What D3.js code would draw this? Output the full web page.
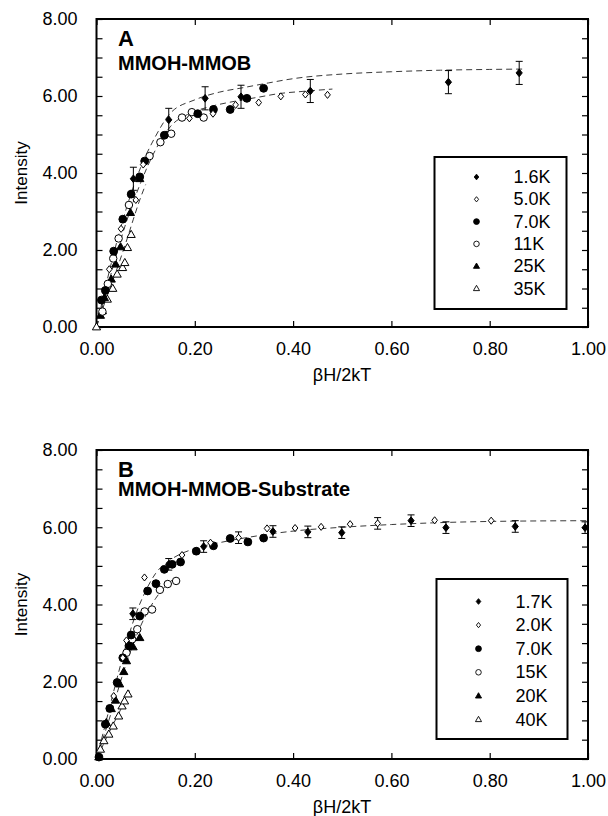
<!DOCTYPE html>
<html>
<head>
  <meta charset="utf-8">
  <title>Intensity vs βH/2kT</title>
  <script src="https://d3js.org/d3.v7.min.js"></script>
  <style>
    body { margin: 0; background: #fff; }
    text { font-family: "Liberation Sans", Arial, sans-serif; fill: #000; }
  </style>
</head>
<body>
  <script>
    // ---- data: [x, y, error] ----
    // panel A : MMOH-MMOB
    var a16 = [[0.075,3.85,0.3],[0.147,5.38,0.3],[0.221,5.94,0.3],[0.294,5.98,0.3],[0.435,6.13,0.3],[0.716,6.36,0.3],[0.860,6.60,0.3]];
    var a50 = [[0.026,1.5],[0.05,2.55],[0.08,3.3],[0.095,4.22],[0.189,5.42],[0.237,5.54],[0.283,5.77],[0.330,5.83],[0.375,5.99],[0.425,6.04],[0.470,6.03]];
    var a70 = [[0.01,0.7],[0.018,0.95],[0.035,1.97],[0.0535,2.8],[0.0705,3.45],[0.088,3.9],[0.098,4.31],[0.138,4.98],[0.206,5.54],[0.238,5.65],[0.272,5.65],[0.306,5.94],[0.34,6.2]];
    var a11 = [[0.012,0.4],[0.023,1.12],[0.034,1.78],[0.045,2.3],[0.066,3.17],[0.108,4.44],[0.130,4.8],[0.152,5.02],[0.174,5.44],[0.194,5.58],[0.218,5.44]];
    var a25 = [[0.008,0.3],[0.016,0.76],[0.030,1.24],[0.039,1.63],[0.049,2.08],[0.069,2.97],[0.088,3.85]];
    var a35 = [[0,0],[0.012,0.42],[0.022,0.72],[0.033,1.0],[0.042,1.37],[0.053,1.54],[0.0576,1.67],[0.063,2.06],[0.0705,2.4]];
    var fitA1 = [[0,0],[0.03,1.65],[0.06,3.05],[0.09,4.15],[0.12,4.95],[0.15,5.55],[0.2,5.9],[0.25,6.1],[0.3,6.22],[0.35,6.34],[0.4,6.45],[0.5,6.57],[0.6,6.63],[0.7,6.67],[0.8,6.69],[0.87,6.7]];
    var fitA2 = [[0,0],[0.03,1.4],[0.06,2.7],[0.09,3.75],[0.12,4.6],[0.15,5.2],[0.19,5.55],[0.23,5.72],[0.28,5.86],[0.33,5.97],[0.37,6.06],[0.42,6.12],[0.48,6.18]];
    var fitA3 = [[0,0],[0.02,0.75],[0.04,1.45],[0.06,2.2],[0.075,2.8],[0.088,3.3],[0.1,3.7]];
    var labelsA = ["1.6K","5.0K","7.0K","11K","25K","35K"];

    // panel B : MMOH-MMOB-Substrate
    var b17 = [[0.074,3.76,0.15],[0.147,5.04,0.15],[0.218,5.5,0.15],[0.359,5.89,0.15],[0.430,5.88,0.15],[0.499,5.86,0.15],[0.640,6.17,0.15],[0.711,5.99,0.15],[0.852,6.02,0.15],[0.994,5.99,0.15]];
    var b20 = [[0.035,1.63],[0.0535,2.62],[0.061,3.07],[0.0976,4.7],[0.174,5.28],[0.232,5.6],[0.289,5.73,0.15],[0.347,5.97],[0.404,5.98],[0.457,6.01],[0.516,6.08],[0.572,6.1,0.15],[0.688,6.18],[0.803,6.17]];
    var b70 = [[0.005,0.05],[0.018,0.9],[0.027,1.31],[0.042,1.98],[0.0535,2.62],[0.066,2.93],[0.0705,3.21],[0.088,3.7],[0.104,4.35],[0.121,4.54],[0.138,4.91],[0.154,5.04],[0.171,5.1],[0.203,5.38],[0.238,5.52],[0.272,5.71],[0.308,5.62],[0.34,5.72]];
    var b15 = [[0.061,2.75],[0.0725,3.1],[0.083,3.36],[0.098,3.82],[0.113,3.87],[0.129,4.38],[0.145,4.53],[0.162,4.61]];
    var b20k = [[0.0048,0.05],[0.020,0.94],[0.030,1.3],[0.0386,1.52],[0.047,1.94],[0.0555,2.26],[0.061,2.54],[0.0745,2.9],[0.088,3.14]];
    var b40 = [[0.008,0.25],[0.015,0.47],[0.025,0.64],[0.034,0.85],[0.045,1.11],[0.052,1.37],[0.057,1.5],[0.064,1.68]];
    var fitB1 = [[0,0],[0.02,1.0],[0.04,2.0],[0.06,2.95],[0.08,3.75],[0.1,4.35],[0.12,4.8],[0.15,5.15],[0.2,5.45],[0.25,5.6],[0.3,5.72],[0.35,5.82],[0.4,5.9],[0.5,6.0],[0.6,6.07],[0.7,6.12],[0.8,6.15],[1.0,6.17]];
    var fitB2 = [[0,0],[0.03,1.2],[0.06,2.45],[0.09,3.45],[0.12,4.15],[0.16,4.7]];
    var fitB3 = [[0,0],[0.03,0.8],[0.05,1.3],[0.07,1.85]];
    var labelsB = ["1.7K","2.0K","7.0K","15K","20K","40K"];

    var xTicks = [0, 0.2, 0.4, 0.6, 0.8, 1.0];
    var yTicks = [0, 2, 4, 6, 8];

    var W = 608, H = 816;
    var svg = d3.select("body").append("svg")
        .attr("width", W).attr("height", H);

    // marker shapes
    var diamond = { draw: function(ctx, size) {
      var w = Math.sqrt(size) * 0.5, h = w * 1.25;
      ctx.moveTo(0, -h); ctx.lineTo(w, 0); ctx.lineTo(0, h); ctx.lineTo(-w, 0); ctx.closePath();
    }};
    var triangle = { draw: function(ctx, size) {
      var s = Math.sqrt(size) * 1.3, h = s * 0.87;
      ctx.moveTo(0, -h * 0.6); ctx.lineTo(s / 2, h * 0.4); ctx.lineTo(-s / 2, h * 0.4); ctx.closePath();
    }};
    var shapes = [
      {type: diamond, fill: "#000", size: 38},
      {type: diamond, fill: "#fff", size: 32},
      {type: d3.symbolCircle, fill: "#000", size: 48},
      {type: d3.symbolCircle, fill: "#fff", size: 44},
      {type: triangle, fill: "#000", size: 40},
      {type: triangle, fill: "#fff", size: 40}
    ];

    function drawPanel(cfg) {
      var x = d3.scaleLinear().domain([0, 1]).range([96.5, 588]);
      var y = d3.scaleLinear().domain([0, 8]).range([cfg.bottom, cfg.top]);
      var g = svg.append("g");

      // inward ticks on all four sides
      g.append("g").attr("transform", "translate(96.5,0)")
        .call(d3.axisRight(y).tickValues(d3.range(0, 8.01, 0.5)).tickSize(6).tickFormat(""))
        .call(function(a) { a.select(".domain").remove(); });
      g.append("g").attr("transform", "translate(588,0)")
        .call(d3.axisLeft(y).tickValues(d3.range(0, 8.01, 0.5)).tickSize(6).tickFormat(""))
        .call(function(a) { a.select(".domain").remove(); });
      g.append("g").attr("transform", "translate(0," + cfg.bottom + ")")
        .call(d3.axisTop(x).tickValues(xTicks).tickSize(6).tickFormat(""))
        .call(function(a) { a.select(".domain").remove(); });
      g.append("g").attr("transform", "translate(0," + cfg.top + ")")
        .call(d3.axisBottom(x).tickValues(xTicks).tickSize(6).tickFormat(""))
        .call(function(a) { a.select(".domain").remove(); });
      g.selectAll(".tick line").attr("stroke", "#000").attr("stroke-width", 1.2);

      // tick labels
      g.append("g").attr("transform", "translate(96.5,0)")
        .call(d3.axisLeft(y).tickValues(yTicks).tickSize(0).tickPadding(19).tickFormat(d3.format(".2f")))
        .call(function(a) { a.select(".domain").remove(); a.selectAll("text").style("font-size", "18px").style("font-family", "Liberation Sans, Arial, sans-serif"); });
      g.append("g").attr("transform", "translate(0," + cfg.bottom + ")")
        .call(d3.axisBottom(x).tickValues(xTicks).tickSize(0).tickPadding(15).tickFormat(d3.format(".2f")))
        .call(function(a) { a.select(".domain").remove(); a.selectAll("text").style("font-size", "18px").style("font-family", "Liberation Sans, Arial, sans-serif"); });

      // frame
      g.append("rect").attr("x", 96.5).attr("y", cfg.top)
        .attr("width", 588 - 96.5).attr("height", cfg.bottom - cfg.top)
        .attr("fill", "none").attr("stroke", "#000").attr("stroke-width", 2);

      // axis titles
      g.append("text").attr("transform", "translate(27," + (cfg.top + cfg.bottom) / 2 + ") rotate(-90)")
        .attr("text-anchor", "middle").style("font-size", "17px").text("Intensity");
      g.append("text").attr("x", 342).attr("y", cfg.bottom + 54)
        .attr("text-anchor", "middle").style("font-size", "18px").text("βH/2kT");

      // panel letter and name
      g.append("text").attr("x", 118).attr("y", cfg.top + 27)
        .style("font-size", "22px").style("font-weight", "bold").text(cfg.letter);
      g.append("text").attr("x", 118).attr("y", cfg.subY)
        .style("font-size", "20px").style("font-weight", "bold").text(cfg.name);

      // dashed fits
      var line = d3.line().x(function(d) { return x(d[0]); }).y(function(d) { return y(d[1]); })
        .curve(d3.curveMonotoneX);
      cfg.fits.forEach(function(f) {
        g.append("path").attr("d", line(f)).attr("fill", "none")
          .attr("stroke", "#222").attr("stroke-width", 0.9).attr("stroke-dasharray", "6,4");
      });

      // error bars
      cfg.series.forEach(function(s) {
        s.filter(function(d) { return d[2]; }).forEach(function(d) {
          var cx = x(d[0]), y1 = y(d[1] + d[2]), y2 = y(d[1] - d[2]);
          g.append("path").attr("d", "M" + cx + "," + y1 + "V" + y2 + "M" + (cx - 3.5) + "," + y1 + "H" + (cx + 3.5) + "M" + (cx - 3.5) + "," + y2 + "H" + (cx + 3.5))
            .attr("stroke", "#000").attr("stroke-width", 1).attr("fill", "none");
        });
      });

      // markers (warmest drawn first)
      for (var i = cfg.series.length - 1; i >= 0; i--) {
        var sh = shapes[i];
        g.selectAll(null).data(cfg.series[i]).enter().append("path")
          .attr("transform", function(d) { return "translate(" + x(d[0]) + "," + y(d[1]) + ")"; })
          .attr("d", d3.symbol().type(sh.type).size(sh.size))
          .attr("fill", sh.fill).attr("stroke", "#000").attr("stroke-width", 1);
      }

      // legend
      var lg = g.append("g");
      lg.append("rect").attr("x", cfg.legend.x).attr("y", cfg.legend.y)
        .attr("width", cfg.legend.w).attr("height", cfg.legend.h)
        .attr("fill", "#fff").attr("stroke", "#000").attr("stroke-width", 2);
      cfg.labels.forEach(function(lab, i) {
        var ry = cfg.legend.y + cfg.legend.first + i * cfg.legend.step;
        lg.append("path").attr("transform", "translate(" + (cfg.legend.x + 42) + "," + ry + ")")
          .attr("d", d3.symbol().type(shapes[i].type).size(shapes[i].size * 0.55))
          .attr("fill", shapes[i].fill).attr("stroke", "#000").attr("stroke-width", 0.9);
        lg.append("text").attr("x", cfg.legend.x + 79).attr("y", ry + 6)
          .style("font-size", "18px").text(lab);
      });
    }

    drawPanel({
      top: 19, bottom: 327, letter: "A", name: "MMOH-MMOB", subY: 70,
      series: [a16, a50, a70, a11, a25, a35], fits: [fitA1, fitA2, fitA3], labels: labelsA,
      legend: {x: 434.5, y: 157, w: 132, h: 152, first: 20, step: 22.3}
    });
    drawPanel({
      top: 450, bottom: 759, letter: "B", name: "MMOH-MMOB-Substrate", subY: 496,
      series: [b17, b20, b70, b15, b20k, b40], fits: [fitB1, fitB2, fitB3], labels: labelsB,
      legend: {x: 436.5, y: 579, w: 131, h: 160, first: 22.5, step: 23.6}
    });
  </script>
</body>
</html>
